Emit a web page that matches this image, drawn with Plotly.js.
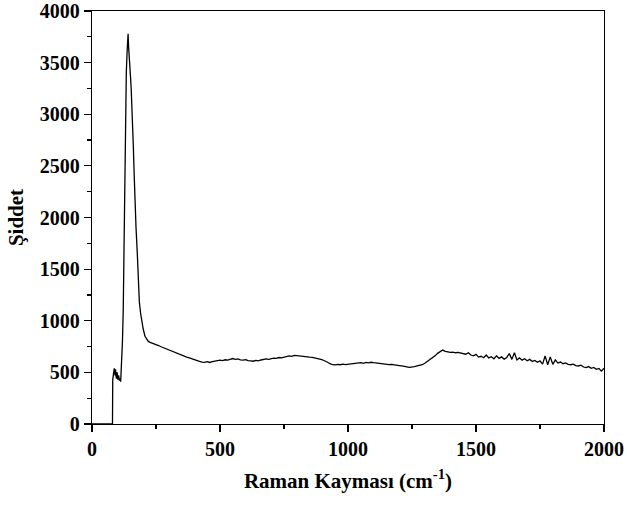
<!DOCTYPE html>
<html>
<head>
<meta charset="utf-8">
<script src="https://cdn.plot.ly/plotly-3.0.1.min.js"></script>
<style>html,body{margin:0;padding:0;background:#fff;}#chart{width:627px;height:506px;}</style>
</head>
<body>
<div id="chart"></div>
<script>
// Raman shift (cm^-1)
const ramanShift = [
  0, 20, 40, 60, 80, 81, 84, 87, 90, 92, 95, 98, 101, 104, 107, 110, 112,
  116, 119, 122, 124, 126, 129, 131, 134, 137, 141, 143, 146, 150, 153, 157, 161, 165, 168,
  172, 177, 181, 185, 190, 195, 200, 207, 214, 220, 227,
  240, 250, 260, 270, 280, 290, 300, 310, 320, 330, 340, 350, 360, 370, 380, 390,
  400, 410, 420, 430, 440, 450, 460, 470, 480, 490, 500, 510, 520, 530, 540, 550,
  560, 570, 580, 590, 600, 610, 620, 630, 640, 650, 660, 670, 680, 690, 700, 710,
  720, 730, 740, 750, 760, 770, 780, 790, 800, 810, 820, 830, 840, 850, 860, 870,
  880, 890, 900, 910, 920, 930, 940, 950, 960, 970, 980, 990, 1000, 1010, 1020, 1030,
  1040, 1050, 1060, 1070, 1080, 1090, 1100, 1110, 1120, 1130, 1140, 1150, 1160, 1170,
  1180, 1190, 1200, 1210, 1220, 1230, 1240, 1250, 1260, 1270, 1280, 1290, 1300, 1310,
  1320, 1330, 1340, 1350, 1360, 1370, 1380, 1390, 1400, 1410, 1420, 1430, 1440, 1450,
  1460, 1470, 1480, 1490, 1500, 1510, 1520, 1530, 1540, 1550, 1560, 1570, 1580, 1590,
  1600, 1610, 1620, 1630, 1640, 1650, 1660, 1670, 1680, 1690, 1700, 1710, 1720, 1730,
  1740, 1750, 1760, 1770, 1780, 1790, 1800, 1810, 1820, 1830, 1840, 1850, 1860, 1870,
  1880, 1890, 1900, 1910, 1920, 1930, 1940, 1950, 1960, 1970, 1980, 1990, 2000
];
// Intensity (Şiddet)
const intensity = [
  0, 0, 0, 0, 0, 430, 500, 540, 470, 530, 440, 500, 430, 470, 420, 440, 410,
  600, 800, 1100, 1550, 2050, 2600, 3050, 3400, 3600, 3780, 3650, 3450, 3380, 3250, 3030, 2720, 2400, 2150,
  1900, 1650, 1350, 1180, 1070, 990, 920, 850, 815, 800, 790,
  780, 772, 760, 748, 738, 725, 712, 704, 696, 684, 672, 668, 656, 648, 640, 630,
  622, 612, 606, 600, 596, 603, 596, 604, 608, 612, 618, 614, 622, 618, 628, 634,
  626, 630, 622, 618, 624, 614, 612, 608, 616, 612, 620, 626, 630, 626, 634, 638,
  636, 644, 640, 648, 652, 660, 656, 664, 662, 658, 660, 654, 652, 648, 646, 638,
  634, 628, 622, 612, 598, 584, 574, 572, 578, 574, 580, 576, 580, 584, 588, 586,
  590, 594, 588, 596, 592, 598, 594, 590, 586, 588, 582, 580, 576, 578,
  572, 570, 566, 562, 560, 554, 548, 550, 556, 562, 566, 574, 588, 604,
  622, 640, 660, 684, 704, 716, 704, 698, 694, 696, 690, 694, 686, 680,
  676, 690, 668, 660, 674, 648, 656, 642, 668, 640, 652, 632, 660, 636,
  650, 628, 644, 682, 626, 690, 620, 640, 618, 632, 612, 626, 606, 616,
  598, 612, 580, 660, 574, 650, 578, 620, 590, 600, 584, 592, 578, 574,
  580, 566, 562, 570, 552, 546, 556, 540, 548, 530, 538, 512, 540
];
const xTickVals = [0, 500, 1000, 1500, 2000];
const yTickVals = [0, 500, 1000, 1500, 2000, 2500, 3000, 3500, 4000];

const font = {family: 'Liberation Serif, Times New Roman, serif', size: 20, color: '#000', weight: 'bold'};

const trace = {
  x: ramanShift, y: intensity, type: 'scatter', mode: 'lines',
  line: {color: '#000', width: 1.3}, hoverinfo: 'skip'
};

const axisCommon = {
  showgrid: false, zeroline: false, showline: true, linecolor: '#000', linewidth: 1.2,
  mirror: true, ticks: 'outside', ticklen: 7, tickwidth: 1.2, tickcolor: '#000',
  tickfont: font,
  minor: {ticks: 'outside', ticklen: 4, tickwidth: 1.2, tickcolor: '#000', showgrid: false}
};

const layout = {
  width: 627, height: 506,
  margin: {l: 92, r: 23, t: 11, b: 82},
  paper_bgcolor: '#fff', plot_bgcolor: '#fff',
  showlegend: false,
  font: font,
  xaxis: Object.assign({}, axisCommon, {
    range: [0, 2000], tickvals: xTickVals, ticktext: xTickVals.map(v => '<b>' + v + '</b>'),
    minor: Object.assign({}, axisCommon.minor, {dtick: 250, tick0: 0}),
    title: {text: '<b>Raman Kayması (cm<sup>-1</sup>)</b>', font: Object.assign({}, font, {size: 21}), standoff: 14}
  }),
  yaxis: Object.assign({}, axisCommon, {
    range: [0, 4000], tickvals: yTickVals, ticktext: yTickVals.map(v => '<b>' + v + '</b>'),
    minor: Object.assign({}, axisCommon.minor, {dtick: 250, tick0: 0}),
    title: {text: '<b>Şiddet</b>', font: Object.assign({}, font, {size: 21}), standoff: 10}
  })
};

Plotly.newPlot('chart', [trace], layout, {displayModeBar: false, staticPlot: true});
</script>
</body>
</html>
